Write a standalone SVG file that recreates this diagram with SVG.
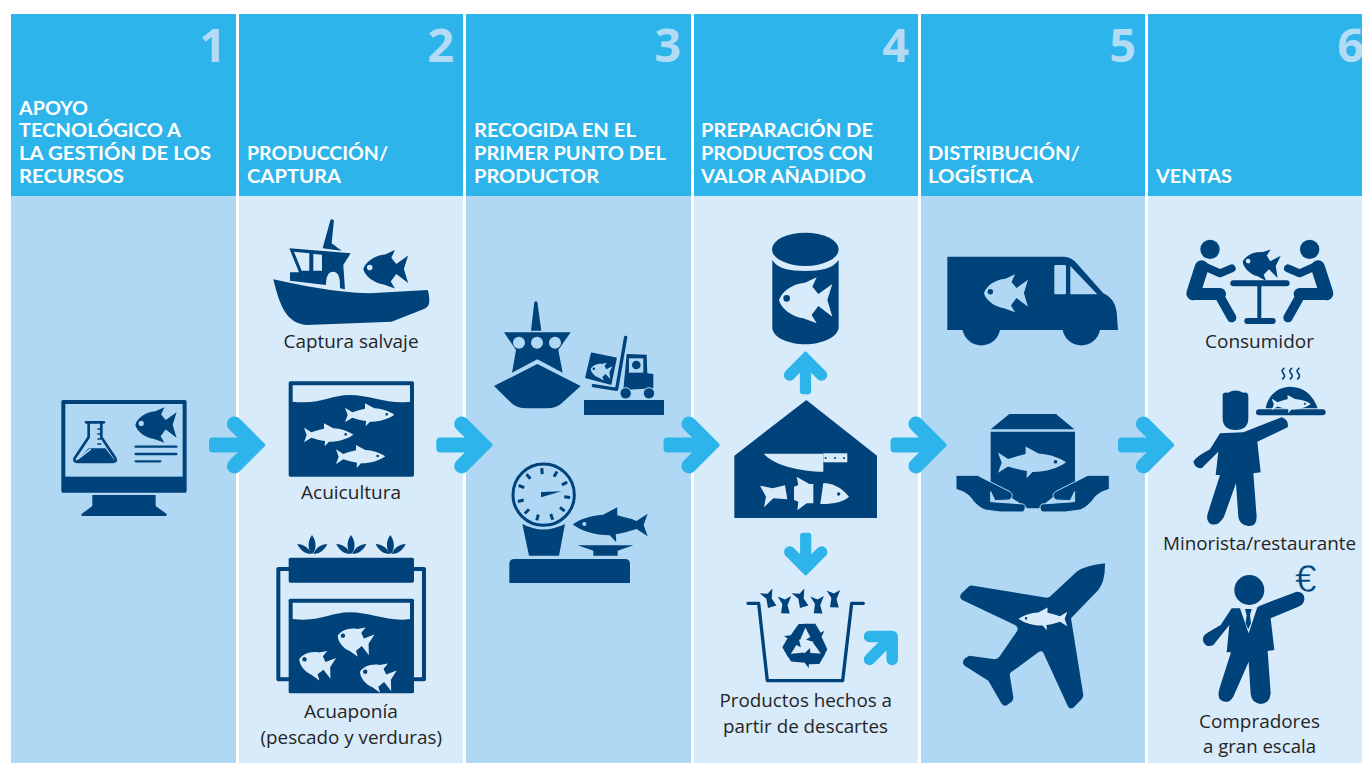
<svg xmlns="http://www.w3.org/2000/svg" xmlns:xlink="http://www.w3.org/1999/xlink" width="1362" height="763" viewBox="0 0 1362 763">
<style>
.hd{fill:#2db4ea}.dk{fill:#b0d8f5}.lt{fill:#d8ebfa}
.n{fill:#00427a}.fd{fill:#b0d8f5}.fl{fill:#d8ebfa}
.sn{fill:none;stroke:#00427a;stroke-linecap:round;stroke-linejoin:round}
.num{font:700 47px "Open Sans","Liberation Sans",sans-serif;fill:#b2dbf6;text-anchor:end}
.h{font:700 19px Lato,"Open Sans","Liberation Sans",sans-serif;fill:#fff}
.l{font:400 19px "Open Sans","Liberation Sans",sans-serif;fill:#262425}
.ar{fill:#2db4ea}
</style>
<defs>
<path id="rf" fill-rule="evenodd" d="M0,0C6,-24 38,-50 78,-53L113,-69L100,-41L118,-19L160,-49L145,-1L160,49L118,17L98,44L113,69L73,54C38,50 6,24 0,0ZM13,-6a10,10 0 1 0 20,0a10,10 0 1 0 -20,0Z"/>
<path id="lf" fill-rule="evenodd" d="M0,-22L22,-8C35,-13 48,-16 60,-19L60,-35L88,-20C115,-18 135,-10 148,-1C130,12 105,20 75,20L62,34L63,18C48,16 35,12 22,8L0,22L8,0ZM121,-2a4,4 0 1 0 8,0a4,4 0 1 0 -8,0Z"/>
<path id="arr" d="M-2,-2L-26.5,-26.5A7.5,7.5 0 0 0 -37.1,-15.9L-28.6,-7.4L-53,-7.4Q-57,-7.4 -57,-3.4L-57,3.4Q-57,7.4 -53,7.4L-28.6,7.4L-37.1,15.9A7.5,7.5 0 0 0 -26.5,26.5L-2,2Q0.5,0 -2,-2Z"/>
<path id="tail" d="M-25,-20L-2,-14L15,-27L8,2L18,25L-8,28L-8,0Z"/>
<g id="rec"><path d="M-45,-29L-21,-63L4,-63L-17,-15Z"/><path d="M-7,-64L29,-64L45,-37L56,-43L39,-5L1,-16L14,-24Z"/></g>
<g id="leaf"><path d="M0,0C-16,20 -11,50 0,57C12,50 16,20 0,0Z"/><path d="M-44,27C-26,27 -8,40 -2,57C-21,57 -36,45 -44,27Z"/><path d="M46,27C28,27 10,40 4,57C23,57 38,45 46,27Z"/></g>
</defs>

<g id="columns">
<rect class="dk" x="11" y="196" width="225" height="567"/>
<rect class="lt" x="239" y="196" width="224" height="567"/>
<rect class="dk" x="466" y="196" width="225" height="567"/>
<rect class="lt" x="694" y="196" width="224" height="567"/>
<rect class="dk" x="921" y="196" width="224" height="567"/>
<rect class="lt" x="1148" y="196" width="214" height="567"/>
<rect class="hd" x="11" y="14" width="225" height="182"/>
<rect class="hd" x="239" y="14" width="224" height="182"/>
<rect class="hd" x="466" y="14" width="225" height="182"/>
<rect class="hd" x="694" y="14" width="224" height="182"/>
<rect class="hd" x="921" y="14" width="224" height="182"/>
<rect class="hd" x="1148" y="14" width="214" height="182"/>
</g>

<g id="headers">
<text class="num" x="226" y="62">1</text>
<text class="num" x="454" y="62">2</text>
<text class="num" x="681" y="62">3</text>
<text class="num" x="909" y="62">4</text>
<text class="num" x="1136" y="62">5</text>
<text class="num" x="1364" y="62">6</text>
<text class="h" x="19" y="114.5" textLength="69" lengthAdjust="spacingAndGlyphs">APOYO</text>
<text class="h" x="19" y="136.8" textLength="162" lengthAdjust="spacingAndGlyphs">TECNOLÓGICO A</text>
<text class="h" x="19" y="159.5" textLength="192" lengthAdjust="spacingAndGlyphs">LA GESTIÓN DE LOS</text>
<text class="h" x="19" y="182.7" textLength="105" lengthAdjust="spacingAndGlyphs">RECURSOS</text>
<text class="h" x="247" y="159.5" textLength="141" lengthAdjust="spacingAndGlyphs">PRODUCCIÓN/</text>
<text class="h" x="247" y="182.7" textLength="94" lengthAdjust="spacingAndGlyphs">CAPTURA</text>
<text class="h" x="474" y="136.8" textLength="162" lengthAdjust="spacingAndGlyphs">RECOGIDA EN EL</text>
<text class="h" x="474" y="159.5" textLength="192" lengthAdjust="spacingAndGlyphs">PRIMER PUNTO DEL</text>
<text class="h" x="474" y="182.7" textLength="125" lengthAdjust="spacingAndGlyphs">PRODUCTOR</text>
<text class="h" x="701" y="136.8" textLength="172" lengthAdjust="spacingAndGlyphs">PREPARACIÓN DE</text>
<text class="h" x="701" y="159.5" textLength="172" lengthAdjust="spacingAndGlyphs">PRODUCTOS CON</text>
<text class="h" x="701" y="182.7" textLength="165" lengthAdjust="spacingAndGlyphs">VALOR AÑADIDO</text>
<text class="h" x="928" y="159.5" textLength="152" lengthAdjust="spacingAndGlyphs">DISTRIBUCIÓN/</text>
<text class="h" x="928" y="182.7" textLength="105" lengthAdjust="spacingAndGlyphs">LOGÍSTICA</text>
<text class="h" x="1156" y="182.7" textLength="76" lengthAdjust="spacingAndGlyphs">VENTAS</text>
</g>

<g id="connectors">
<use href="#arr" class="ar" transform="translate(266,445)"/>
<use href="#arr" class="ar" transform="translate(493.3,445)"/>
<use href="#arr" class="ar" transform="translate(720.5,445)"/>
<use href="#arr" class="ar" transform="translate(947.5,445)"/>
<use href="#arr" class="ar" transform="translate(1175,445)"/>
<use href="#arr" class="ar" transform="translate(805.5,351) rotate(-90) scale(.76)"/>
<use href="#arr" class="ar" transform="translate(805.7,576) rotate(90) scale(.76)"/>
<path d="M869.5,636.5L892.2,636.5L892.2,659.5M892.2,636.5L869.5,659.5" fill="none" stroke="#2db4ea" stroke-width="11.5" stroke-linecap="round" stroke-linejoin="round"/>
</g>

<g id="node-monitor"><g transform="translate(40,380) scale(.3333)">
<rect class="n" x="64" y="60" width="376" height="278" rx="5"/>
<rect class="fd" x="76" y="72" width="352" height="218"/>
<path class="n" d="M157,345L347,345L347,378L380,402Q382,408 375,408L128,408Q122,408 125,402L157,378Z"/>
<path class="sn" stroke-width="8" d="M146,130L146,172L104,235Q100,246 112,246L218,246Q232,246 226,235L184,172L184,130M138,127L192,127"/>
<path class="n" d="M146,205L196,205L228,246L105,246Z"/>
<path d="M152,207L112,238" stroke="#b0d8f5" stroke-width="5" fill="none"/>
<path d="M172,147H184M172,162H184M172,177H184M172,192H184" stroke="#00427a" stroke-width="5" fill="none"/>
<path class="sn" stroke-width="7" d="M287,200H409M287,222H409M287,244H361"/>
</g>
<use href="#rf" class="n" transform="translate(135.3,425) scale(.258)"/></g>

<g id="node-captura"><g transform="scale(.3333)">
<path class="n" d="M820,838C900,855 1000,878 1110,880L1283,870Q1288,880 1288,908Q1285,922 1270,928L1175,965L920,975C860,970 840,920 820,838Z"/>
<path class="n" d="M992,658L1002,660L995,730L1025,752L968,745Z"/>
<path class="n" fill-rule="evenodd" d="M868,745L1052,760L1030,795L1035,868L1020,865Q1022,815 1000,815Q978,815 978,855L870,842L870,817L897,817ZM882,755L928,760L928,812L905,812ZM940,762L966,764L966,812L940,812Z"/>
</g>
<use href="#rf" class="n" transform="translate(363.3,269.3) scale(.28)"/>
<text class="l" x="283.5" y="347.7" textLength="135" lengthAdjust="spacingAndGlyphs">Captura salvaje</text></g>

<g id="node-acuicultura"><g transform="translate(240,370) scale(.3333)">
<rect class="n" x="146" y="34" width="376" height="286" rx="5"/>
<path class="fl" d="M158,46L510,46L510,95C450,105 390,75 330,75C270,75 240,105 158,95Z"/>
</g>
<use href="#lf" class="fl" transform="translate(345,415) scale(.3333)"/>
<use href="#lf" class="fl" transform="translate(304,435) scale(.3333)"/>
<use href="#lf" class="fl" transform="translate(336,456.7) scale(.3333)"/>
<text class="l" x="301" y="499.3" textLength="100" lengthAdjust="spacingAndGlyphs">Acuicultura</text></g>

<g id="node-acuaponia"><g transform="translate(240,370) scale(.3333)">
<use href="#leaf" class="n" x="216" y="495"/><use href="#leaf" class="n" x="333" y="495"/><use href="#leaf" class="n" x="451" y="495"/>
<path class="sn" stroke-width="12" d="M146,597H115V928H146M522,597H552V928H522"/>
<rect class="n" x="146" y="563" width="376" height="75" rx="5"/>
<rect class="n" x="146" y="686" width="376" height="284" rx="5"/>
<path class="fl" d="M158,698L510,698L510,747C450,757 390,727 330,727C270,727 240,757 158,747Z"/>
</g>
<use href="#rf" class="fl" transform="translate(337.7,635.7) rotate(15) scale(.22)"/>
<use href="#rf" class="fl" transform="translate(299.3,659.3) rotate(15) scale(.22)"/>
<use href="#rf" class="fl" transform="translate(360,671.7) rotate(15) scale(.22)"/>
<text class="l" x="304" y="717.7" textLength="94" lengthAdjust="spacingAndGlyphs">Acuaponía</text>
<text class="l" x="260.5" y="744" textLength="181.5" lengthAdjust="spacingAndGlyphs">(pescado y verduras)</text></g>

<g id="node-recogida"><g transform="translate(480,290) scale(.3333)">
<path class="n" d="M168,34L172,36L184,122L153,122L163,36Z"/>
<path class="n" d="M72,127L272,127L235,180L248,248L172,208L96,248L108,180Z"/>
<circle class="fd" cx="117" cy="158" r="18"/><circle class="fd" cx="171" cy="158" r="18"/><circle class="fd" cx="225" cy="158" r="18"/>
<path class="n" d="M42,288L172,222L302,288L245,340Q230,355 200,355L140,355Q110,355 95,340Z"/>
<path class="sn" stroke-width="10" d="M437,142L410,298L340,287"/>
<path class="n" d="M335,190L408,205L392,282L318,262Z" stroke="#00427a" stroke-width="5" stroke-linejoin="round"/>
<path class="n" d="M440,192L500,194L502,250L520,252L520,295L430,300Z"/>
<rect class="fd" x="447" y="205" width="43" height="43"/><circle class="n" cx="469" cy="225" r="13"/>
<circle class="n" cx="437" cy="310" r="17" stroke="#b0d8f5" stroke-width="3"/><circle class="n" cx="507" cy="310" r="17" stroke="#b0d8f5" stroke-width="3"/>
<rect class="n" x="312" y="330" width="240" height="45"/>
</g>
<use href="#rf" class="fd" transform="translate(590.7,369) rotate(10) scale(.131)"/></g>

<g id="node-bascula"><g transform="translate(480,290) scale(.3333)">
<circle cx="191" cy="614" r="92" fill="none" stroke="#00427a" stroke-width="9"/>
<g stroke="#00427a" stroke-width="9" fill="none"><path d="M191,534V552" transform="rotate(-4 191 614)"/><path d="M191,534V552" transform="rotate(30 191 614)"/><path d="M191,534V552" transform="rotate(62 191 614)"/><path d="M191,534V552" transform="rotate(96 191 614)"/><path d="M191,534V552" transform="rotate(128 191 614)"/><path d="M191,534V552" transform="rotate(160 191 614)"/><path d="M191,534V552" transform="rotate(195 191 614)"/><path d="M191,534V552" transform="rotate(225 191 614)"/><path d="M191,534V552" transform="rotate(255 191 614)"/><path d="M191,534V552" transform="rotate(290 191 614)"/><path d="M191,534V552" transform="rotate(320 191 614)"/></g>
<path class="n" d="M183,606L245,604L183,622Z"/>
<path class="n" d="M127,702Q190,735 255,702L237,797L147,797Z"/>
<path class="n" d="M293,766L460,766L413,782L413,797L340,797L340,782Z"/>
<path class="n" d="M103,807L435,807Q450,807 450,822L450,879L88,879L88,822Q88,807 103,807Z"/>
</g>
<use href="#lf" class="n" transform="translate(647.7,525) scale(-.507,.507)"/></g>

<g id="node-preparacion"><g transform="translate(690,220) scale(.3333)">
<path class="n" d="M349,540L561,707L561,894L133,894L133,707Z"/>
<path class="fl" d="M221,701L400,701L400,755C330,755 250,735 221,701Z"/>
<rect class="fl" x="400" y="700" width="72" height="27"/>
<circle class="n" cx="407" cy="714" r="3"/><circle class="n" cx="435" cy="714" r="3"/><circle class="n" cx="462" cy="714" r="3"/>
<path class="fl" d="M210,797L248,805L285,796L292,838L250,835L222,862L228,830Z"/>
<path class="fl" d="M320,770L358,792L370,792L370,850L350,850L322,871L325,845L312,840L312,800L325,795Z"/>
<path class="fl" d="M400,789C440,790 465,815 477,830C460,845 430,853 391,852Z"/>
<circle class="n" cx="446" cy="822" r="5"/>
</g></g>

<g id="node-lata"><g transform="translate(690,220) scale(.3333)">
<ellipse class="n" cx="346" cy="88" rx="100" ry="50"/>
<path class="n" d="M247,120C260,145 300,153 346,153C392,153 430,145 446,120L446,325C440,355 390,373 346,373C300,373 250,355 247,325Z"/>
</g>
<use href="#rf" class="fl" transform="translate(779,300.3) scale(.3333)"/></g>

<g id="node-descartes"><g transform="translate(700,510) scale(.3333)">
<path class="sn" stroke-width="10" d="M144,280H176L202,512H428L455,280H490"/>
<use href="#tail" class="n" transform="translate(207,265) rotate(-10)"/>
<use href="#tail" class="n" transform="translate(255,283) rotate(8)"/>
<use href="#tail" class="n" transform="translate(303,265) rotate(-10)"/>
<use href="#tail" class="n" transform="translate(353,283) rotate(8)"/>
<use href="#tail" class="n" transform="translate(402,265) rotate(8)"/>
<use href="#rec" class="n" transform="translate(317,405)"/>
<use href="#rec" class="n" transform="translate(317,405) rotate(120)"/>
<use href="#rec" class="n" transform="translate(317,405) rotate(240)"/>
</g>
<text class="l" x="719.5" y="706.7" textLength="172.5" lengthAdjust="spacingAndGlyphs">Productos hechos a</text>
<text class="l" x="723" y="732.7" textLength="165" lengthAdjust="spacingAndGlyphs">partir de descartes</text></g>

<g id="node-camion"><g transform="translate(920,230) scale(.3333)">
<path class="n" d="M82,80L435,80Q455,82 470,100L550,190Q585,205 590,245L594,300L540,300A57,57 0 0 1 428,300L240,300A57,57 0 0 1 128,300L82,300Z"/>
<rect class="fd" x="403" y="105" width="35" height="88" rx="4"/>
<path class="fd" d="M451,108L532,193L451,193Z"/>
</g>
<use href="#rf" class="fd" transform="translate(984,293.3) scale(.275)"/></g>

<g id="node-caja"><g transform="translate(920,230) scale(.3333)">
<path class="n" d="M268,552L408,552L463,598L212,598Z"/>
<path class="n" d="M212,605H465V770L400,800L357,835H323L270,800L212,770Z"/>
<path class="n" stroke="#b0d8f5" stroke-width="3" d="M108,736L172,736L270,785Q285,797 268,810L225,812L212,785L212,815L310,822Q322,830 310,846L240,846L195,840Q170,830 150,800Q135,785 108,778Z"/>
<path class="n" stroke="#b0d8f5" stroke-width="3" transform="translate(676,0) scale(-1,1)" d="M108,736L172,736L270,785Q285,797 268,810L225,812L212,785L212,815L310,822Q322,830 310,846L240,846L195,840Q170,830 150,800Q135,785 108,778Z"/>
</g>
<use href="#lf" class="fd" transform="translate(998,462.7) scale(.46)"/></g>

<g id="node-avion"><g transform="translate(930,540) scale(.3333)">
<path class="n" d="M525,75Q525,125 505,150L423,235L460,465Q460,472 455,478L430,503Q418,510 412,495L340,338Q335,330 325,337L243,397Q238,402 240,410L250,472Q250,480 245,485L228,497Q218,498 214,490L175,422L105,378Q92,368 105,355L118,347L195,358Q203,356 208,350L262,272Q266,262 255,255L97,180Q85,172 95,160L118,138Q123,135 130,137L350,173Q358,173 362,168L440,95Q470,75 525,70Z"/>
</g>
<use href="#lf" class="fl" transform="translate(1067.3,619) scale(-.33,.33)"/></g>

<g id="node-consumidor"><g transform="translate(1150,220) scale(.3333)">
<circle class="n" cx="180" cy="88" r="29"/><circle class="n" cx="479" cy="88" r="29"/>
<g class="sn"><path stroke-width="42" d="M155,142L130,220"/><path stroke-width="24" d="M165,140L210,160L245,145"/><path stroke-width="36" d="M130,222H210"/><path stroke-width="28" d="M205,222L245,293"/>
<path stroke-width="42" d="M504,142L529,220"/><path stroke-width="24" d="M494,140L449,160L414,145"/><path stroke-width="36" d="M529,222H449"/><path stroke-width="28" d="M454,222L414,293"/>
<path stroke-width="18" d="M250,190H410"/><path stroke-width="12" d="M328,190V300" stroke-linecap="butt"/><path stroke-width="18" d="M292,303H368"/></g>
</g>
<use href="#rf" class="n" transform="translate(1242.7,261.7) rotate(8) scale(.23)"/>
<text class="l" x="1205" y="347.7" textLength="109" lengthAdjust="spacingAndGlyphs">Consumidor</text></g>

<g id="node-minorista"><g transform="translate(1150,220) scale(.3333)">
<path class="n" d="M218,525Q218,515 235,518Q255,505 280,518Q295,515 295,530L295,595Q295,630 257,630Q218,630 218,595Z"/>
<path class="n" d="M210,640L280,637L395,592Q418,600 413,622L322,665L332,757L310,760L320,890Q320,920 295,918Q268,915 265,890L258,790L222,890Q205,920 182,912Q165,900 175,875L210,765L197,765L205,695L155,745Q135,745 130,725Q135,712 180,688Z"/>
<path class="n" d="M347,565C355,520 390,500 420,500C460,500 490,525 503,565Z"/>
<path class="sn" stroke-width="18" d="M327,577H518"/>
<path class="sn" stroke-width="5" d="M402,445Q392,452 400,460Q408,468 398,477M425,445Q415,452 423,460Q431,468 421,477M447,445Q437,452 445,460Q453,468 443,477"/>
</g>
<use href="#lf" class="fl" transform="translate(1271.7,404.3) scale(.265)"/>
<text class="l" x="1163" y="550" textLength="193" lengthAdjust="spacingAndGlyphs">Minorista/restaurante</text></g>

<g id="node-compradores"><g transform="translate(1150,540) scale(.3333)">
<circle class="n" cx="298" cy="150" r="45"/>
<path class="n" d="M245,205L270,205L296,280L322,202L330,197L440,155Q465,155 463,180Q460,195 445,200L362,235L373,330L353,333L362,460Q360,490 333,492Q305,490 302,462L296,365L250,470Q235,495 212,480Q200,470 210,440L243,337L230,337L238,255L190,315Q170,325 160,305Q155,290 170,280L212,255Z"/>
<path class="n" d="M285,207L305,207L300,225L303,250L295,268L287,250L290,225Z"/>
</g>
<text x="1295" y="591.5" style="font:400 39px 'Liberation Sans',sans-serif;fill:#00427a;stroke:#d8ebfa;stroke-width:.6">€</text>
<text class="l" x="1199" y="728.3" textLength="121" lengthAdjust="spacingAndGlyphs">Compradores</text>
<text class="l" x="1203" y="753.3" textLength="113" lengthAdjust="spacingAndGlyphs">a gran escala</text></g>
</svg>
